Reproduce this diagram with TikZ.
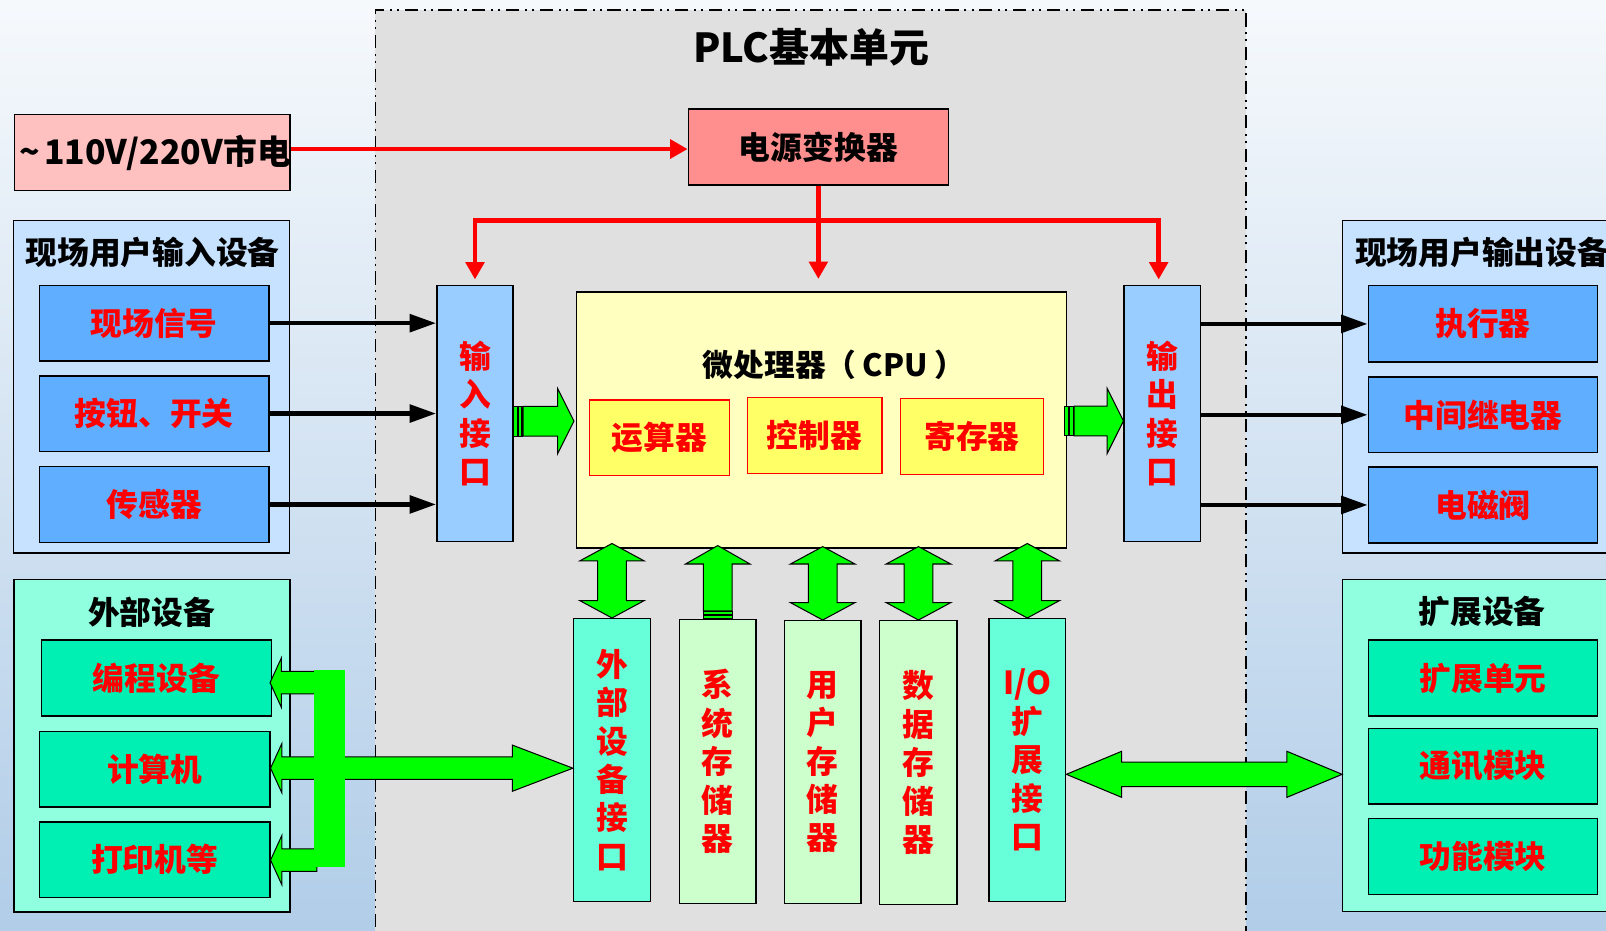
\documentclass[tikz,border=0pt]{standalone}
\usepackage{fontspec}
\setmainfont{Noto Sans CJK SC}
\usetikzlibrary{arrows.meta,calc,fit}
\definecolor{bgtop}{HTML}{F6F9FC}
\definecolor{bgmid}{HTML}{DCE8F5}
\definecolor{bgbot}{HTML}{B1CDE8}
\definecolor{plcgray}{HTML}{E0E0E0}
\definecolor{mainsc}{HTML}{FFC0C0}
\definecolor{convc}{HTML}{FF8F8F}
\definecolor{grpblue}{HTML}{C6E2FF}
\definecolor{devblue}{HTML}{60AEFF}
\definecolor{ifblue}{HTML}{99CCFF}
\definecolor{cpuc}{HTML}{FFFFC0}
\definecolor{subc}{HTML}{FFFF66}
\definecolor{grpgreen}{HTML}{8FFFE0}
\definecolor{devgreen}{HTML}{00F0B4}
\definecolor{ifgreen}{HTML}{66FFD9}
\definecolor{memc}{HTML}{CCFFCC}
\definecolor{arrgreen}{HTML}{00FF00}
\definecolor{pred}{HTML}{FF0000}
\tikzset{
  bx/.style={draw=black, line width=1.3pt, inner sep=0pt},
  ttl/.style={font=\fontsize{31}{31}\selectfont\bfseries, text=black, inner sep=0pt},
  rtxt/.style={font=\fontsize{31}{37.5}\selectfont\bfseries, text=pred, align=center, inner sep=0pt},
  btxt/.style={font=\fontsize{31}{37.5}\selectfont\bfseries, text=black, align=center, inner sep=0pt},
  garrow/.style={fill=arrgreen, draw=black, line width=1pt, line join=miter},
  blkarr/.style={draw=black, line width=4.5pt, -{Triangle[length=26pt,width=17pt]}},
  redarr/.style={draw=pred, line width=4.5pt, -{Triangle[length=17pt,width=18pt]}},
  redboth/.style={draw=pred, line width=4.5pt, line join=miter, {Triangle[length=17pt,width=18pt]}-{Triangle[length=17pt,width=18pt]}},
  plcborder/.style={draw=black, line width=1.5pt, fill=plcgray, inner sep=0pt,
     dash pattern=on 13pt off 5.5pt on 2pt off 5pt on 2pt off 5.5pt}
}
% box from corner to corner, with its text as a separate centred node
% #1 box options, #2 #3 corners, #4 name, #5 text style, #6 text
\newcommand\mkbox[6]{\node[bx,#1,fit={(#2) (#3)}] (#4) {};
  \node[#5] (#4t) at (#4.center) {#6};}
% horizontal block arrow: #1 start, #2 tip, #3 shaft half, #4 head half, #5 head length (signed)
\newcommand\harr[6]{\draw[#6] let \p1=(#1), \p2=(#2) in
  ({\x1},{\y2+#3}) -- ({\x2-(#5)},{\y2+#3}) -- ({\x2-(#5)},{\y2+#4}) -- ({\x2},{\y2})
  -- ({\x2-(#5)},{\y2-#4}) -- ({\x2-(#5)},{\y2-#3}) -- ({\x1},{\y2-#3}) -- cycle;}
% horizontal double block arrow: #1 left tip, #2 right tip
\newcommand\dharr[6]{\draw[#6] let \p1=(#1), \p2=(#2) in
  ({\x1},{\y1}) -- ({\x1+#5},{\y1+#4}) -- ({\x1+#5},{\y1+#3}) -- ({\x2-#5},{\y1+#3})
  -- ({\x2-#5},{\y1+#4}) -- ({\x2},{\y1}) -- ({\x2-#5},{\y1-#4}) -- ({\x2-#5},{\y1-#3})
  -- ({\x1+#5},{\y1-#3}) -- ({\x1+#5},{\y1-#4}) -- cycle;}
% vertical double block arrow: #1 top tip, #2 bottom tip
\newcommand\dvarr[6]{\draw[#6] let \p1=(#1), \p2=(#2) in
  ({\x1},{\y1}) -- ({\x1+#4},{\y1-#5}) -- ({\x1+#3},{\y1-#5}) -- ({\x1+#3},{\y2+#5})
  -- ({\x1+#4},{\y2+#5}) -- ({\x1},{\y2}) -- ({\x1-#4},{\y2+#5}) -- ({\x1-#3},{\y2+#5})
  -- ({\x1-#3},{\y1-#5}) -- ({\x1-#4},{\y1-#5}) -- cycle;}
% vertical up block arrow: #1 top tip, #2 bottom end
\newcommand\uvarr[6]{\draw[#6] let \p1=(#1), \p2=(#2) in
  ({\x1},{\y1}) -- ({\x1+#4},{\y1-#5}) -- ({\x1+#3},{\y1-#5}) -- ({\x1+#3},{\y2})
  -- ({\x1-#3},{\y2}) -- ({\x1-#3},{\y1-#5}) -- ({\x1-#4},{\y1-#5}) -- cycle;}

\begin{document}
\begin{tikzpicture}[x=1pt,y=-1pt]
\useasboundingbox (0,0) rectangle (1568,908);
\clip (0,0) rectangle (1568,908);
\shade[top color=bgtop, middle color=bgmid, bottom color=bgbot] (0,0) rectangle (1568,908);

% PLC basic unit region
\node[plcborder, fit={(366.5,9.5) (1216.5,925)}] (plc) {};
\node[btxt, font=\fontsize{39}{39}\selectfont\bfseries] (plct) at (792,46) {PLC基本单元};

% mains and power converter
\mkbox{fill=mainsc}{14,112}{283,186}{mains}{btxt, font=\fontsize{33}{33}\selectfont\bfseries, xshift=3pt}{\textasciitilde\hspace{4pt}110V/220V市电}
\mkbox{fill=convc}{672,106.5}{926,180.5}{conv}{btxt}{电源变换器}

% input group
\mkbox{fill=grpblue}{13.5,215}{282.5,540}{ingrp}{ttl}{}
\node[ttl] (ingrpt) at (149,246.5) {现场用户输入设备};
\mkbox{fill=devblue}{38.5,278.5}{262.5,352.5}{in1}{rtxt}{现场信号}
\mkbox{fill=devblue}{38.5,367}{262.5,440.5}{in2}{rtxt}{按钮、开关}
\mkbox{fill=devblue}{38.5,455.5}{262.5,529.5}{in3}{rtxt}{传感器}

% output group
\mkbox{fill=grpblue}{1311,215}{1590,540}{outgrp}{ttl}{}
\node[ttl] (outgrpt) at (1447,246.5) {现场用户输出设备};
\mkbox{fill=devblue}{1336,279}{1560,353.5}{o1}{rtxt}{执行器}
\mkbox{fill=devblue}{1336,368}{1560,442}{o2}{rtxt}{中间继电器}
\mkbox{fill=devblue}{1336,456}{1560,530}{o3}{rtxt}{电磁阀}

% interfaces
\mkbox{fill=ifblue}{426.5,278.5}{501,529}{inif}{rtxt}{输\\入\\接\\口}
\mkbox{fill=ifblue}{1097.5,278.5}{1172,529}{outif}{rtxt}{输\\出\\接\\口}

% CPU
\mkbox{fill=cpuc}{563,285}{1041,535}{cpu}{ttl}{}
\node[btxt, font=\fontsize{30}{30}\selectfont\bfseries, anchor=west] (cput) at (686,356.5) {微处理器（\hspace{6pt}CPU\hspace{7pt}）};
\mkbox{fill=subc, draw=pred}{575.5,390.5}{712.5,464.5}{s1}{rtxt}{运算器}
\mkbox{fill=subc, draw=pred}{729.5,388}{861,462}{s2}{rtxt}{控制器}
\mkbox{fill=subc, draw=pred}{879,389}{1019,463}{s3}{rtxt}{寄存器}

% external devices group
\mkbox{fill=grpgreen}{13.8,565.5}{283,890.5}{extgrp}{ttl}{}
\node[ttl] (extgrpt) at (148,597.5) {外部设备};
\mkbox{fill=devgreen}{40.5,625}{265,699}{e1}{rtxt}{编程设备}
\mkbox{fill=devgreen}{38.5,714}{263.5,788}{e2}{rtxt}{计算机}
\mkbox{fill=devgreen}{38.5,802.5}{263.5,876}{e3}{rtxt}{打印机等}

% expansion group
\mkbox{fill=grpgreen}{1311,566}{1590,890}{xgrp}{ttl}{}
\node[ttl] (xgrpt) at (1447,597.5) {扩展设备};
\mkbox{fill=devgreen}{1336,625}{1560,699}{x1}{rtxt}{扩展单元}
\mkbox{fill=devgreen}{1336,711}{1560,785}{x2}{rtxt}{通讯模块}
\mkbox{fill=devgreen}{1336,799}{1560,873}{x3}{rtxt}{功能模块}

% bottom column boxes
\mkbox{fill=ifgreen}{560,604}{635,880}{b1}{rtxt}{外\\部\\设\\备\\接\\口}
\mkbox{fill=memc}{663.5,605}{738,882}{b2}{rtxt}{系\\统\\存\\储\\器}
\mkbox{fill=memc}{766,606}{840.5,882}{b3}{rtxt}{用\\户\\存\\储\\器}
\mkbox{fill=memc}{859,606}{934.5,883}{b4}{rtxt}{数\\据\\存\\储\\器}
\mkbox{fill=ifgreen}{965.5,604}{1040.5,880}{b5}{rtxt}{I/O\\扩\\展\\接\\口}

% red power lines
\draw[redarr] (mains.east |- 0,145.5) -- (conv.west |- 0,145.5);
\coordinate (busL) at (inif.north |- 0,215.5);
\coordinate (busR) at ($(outif.north |- 0,215.5)+(-3.5,0)$);
\draw[redboth] ($(inif.north)+(0,-5)$) -- (busL) -- (busR) -- ($(outif.north)+(-3.5,-5)$);
\draw[redarr] (conv.south) -- ($(conv.south |- cpu.north)+(0,-12)$);

% black signal arrows
\draw[blkarr] (in1.east) -- (in1.east -| inif.west);
\draw[blkarr] (in2.east) -- (in2.east -| inif.west);
\draw[blkarr] (in3.east) -- (in3.east -| inif.west);
\draw[blkarr] (o1.west -| outif.east) -- (o1.west);
\draw[blkarr] (o2.west -| outif.east) -- (o2.west);
\draw[blkarr] (o3.west -| outif.east) -- (o3.west);

% green arrows input -> CPU -> output
\coordinate (ga) at ($(inif.east)+(0,7.5)$);
\draw[garrow] ($(ga)+(0,-14.5)$) rectangle ($(ga)+(3.5,14.5)$);
\draw[garrow] ($(ga)+(5,-14.5)$) rectangle ($(ga)+(8,14.5)$);
\harr{$(ga)+(9,0)$}{$(ga -| cpu.west)+(-2,0)$}{14.5pt}{32pt}{16pt}{garrow}
\coordinate (gb) at ($(cpu.east)+(-2,1)$);
\draw[garrow] ($(gb)+(0,-14.5)$) rectangle ($(gb)+(3.5,14.5)$);
\draw[garrow] ($(gb)+(5,-14.5)$) rectangle ($(gb)+(8,14.5)$);
\harr{$(gb)+(9,0)$}{gb -| outif.west}{14.5pt}{32pt}{16pt}{garrow}

% CPU <-> bottom boxes
\dvarr{$(cpu.south -| b1.north)+(0,-5)$}{b1.north}{14pt}{31.5pt}{17pt}{garrow}
\uvarr{$(cpu.south -| b2.north)+(0,-3)$}{$(b2.north)+(0,-8)$}{14pt}{31.5pt}{18pt}{garrow}
\draw[garrow] ($(b2.north)+(-14,-7)$) rectangle ($(b2.north)+(14,-4)$);
\draw[garrow] ($(b2.north)+(-14,-3)$) rectangle ($(b2.north)+(14,0)$);
\dvarr{$(cpu.south -| b3.north)+(0,-2)$}{b3.north}{14pt}{31.5pt}{17pt}{garrow}
\dvarr{$(cpu.south -| b4.north)+(0,-2)$}{b4.north}{14pt}{31.5pt}{17pt}{garrow}
\dvarr{$(cpu.south -| b5.north)+(0,-5)$}{b5.north}{14pt}{31.5pt}{17pt}{garrow}

% external devices bus
\node[fill=arrgreen, inner sep=0pt, fit={(306.5,654) (337,846)}] (bar) {};
\harr{$(bar.west |- e1.east)+(3,4.5)$}{$(e1.east)+(-2,4.5)$}{11pt}{24pt}{-11pt}{garrow}
\harr{$(bar.west |- e2.east)+(3,-1)$}{$(e2.east)+(0,-1)$}{11pt}{24pt}{-11pt}{garrow}
\harr{$(bar.west |- e3.east)+(3,0.5)$}{$(e3.east)+(0,0.5)$}{11pt}{24pt}{-11pt}{garrow}
\harr{$(bar.east)+(-3,0)$}{bar.east -| b1.west}{11pt}{22.5pt}{59pt}{garrow}
\fill[arrgreen] (bar.south west) rectangle (bar.north east);

% I/O expansion <-> expansion devices
\coordinate (dl) at ($(b5.east)+(0,14)$);
\dharr{dl}{dl -| xgrp.west}{12pt}{22.5pt}{54pt}{garrow}
\end{tikzpicture}
\end{document}
